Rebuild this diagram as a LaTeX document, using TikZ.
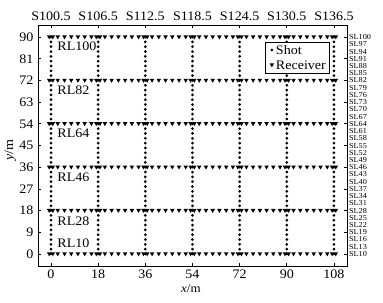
\documentclass[tikz,border=0pt]{standalone}
\usepackage{fontspec}
\setmainfont{Liberation Serif}[FakeStretch=1.08]
\newcommand\recvmark[2]{\fill (#1,#2) ++(-2.3pt,1.7pt) -- ++(4.6pt,0) -- ++(-2.3pt,-4pt) -- cycle;}
\newcommand\shotmark[2]{\fill (#1,#2) circle (1.5pt);}
\begin{document}
\begin{tikzpicture}[x=2.62pt,y=2.41pt,
  font=\fontsize{13}{15}\selectfont,
  lab/.style={inner sep=0pt},
  sl/.style={inner sep=0pt,anchor=west,font=\fontsize{7.6}{8}\selectfont},
  axisline/.style={line width=0.8pt}]
\useasboundingbox (-19.47,-20.33) rectangle (126.72,105.39);
% receivers
\foreach \yy in {0,18,...,90} {
  \foreach \k in {0,...,6} {
    \recvmark{18*\k-0.7}{\yy}
    \recvmark{18*\k+0.7}{\yy}
  }
  \foreach \s in {0,...,5} {
    \foreach \j in {1,...,6} {
      \recvmark{18*\s+\j*18/7}{\yy}
    }
  }
}
% shots
\foreach \k in {0,...,6} {
  \foreach \yy in {0,2,...,90} {
    \shotmark{18*\k}{\yy}
  }
}
% axes box
\draw[axisline] (-5,-5) rectangle (113,95);
\foreach \k in {0,18,...,108} {
  \draw[axisline] (\k,-5) -- ++(0,3pt);
  \draw[axisline] (\k,95) -- ++(0,-3pt);
  \node[lab,anchor=north] at (\k,-6.5) {\k};
}
\foreach \v in {0,9,...,90} {
  \draw[axisline] (-5,\v) -- ++(3pt,0);
  \draw[axisline] (113,\v) -- ++(-3pt,0);
  \node[lab,anchor=east] at (-6.6,\v) {\v};
}
% top labels
\foreach \k/\lab in {0/100.5,18/106.5,36/112.5,54/118.5,72/124.5,90/130.5,108/136.5} {
  \node[lab,anchor=base] at (\k,97) {S\lab};
}
% right labels
\foreach \n in {10,13,...,100} {
  \node[sl] at (113.7,\n-10) {SL\n};
}
% RL labels
\foreach \n/\yy in {100/86,82/68,64/50,46/32,28/13.5,10/4.5} {
  \node[lab,anchor=west] at (2.4,\yy) {RL\n};
}
% axis titles
\node[lab,anchor=base,font=\fontsize{12}{14}\selectfont] at (53.4,-15.9) {\textit{x}/m};
\node[lab,rotate=90] at (-15.6,43) {\textit{y}/m};
% legend
\fill[white] (81.7,75.1) rectangle (106.1,87.6);
\draw[line width=0.8pt] (81.7,75.1) rectangle (106.1,87.6);
\shotmark{84.3}{84.6}
\node[lab,anchor=west] at (85.8,84.6) {Shot};
\recvmark{84.3}{78.4}
\node[lab,anchor=west] at (85.8,78.4) {Receiver};
\end{tikzpicture}
\end{document}
